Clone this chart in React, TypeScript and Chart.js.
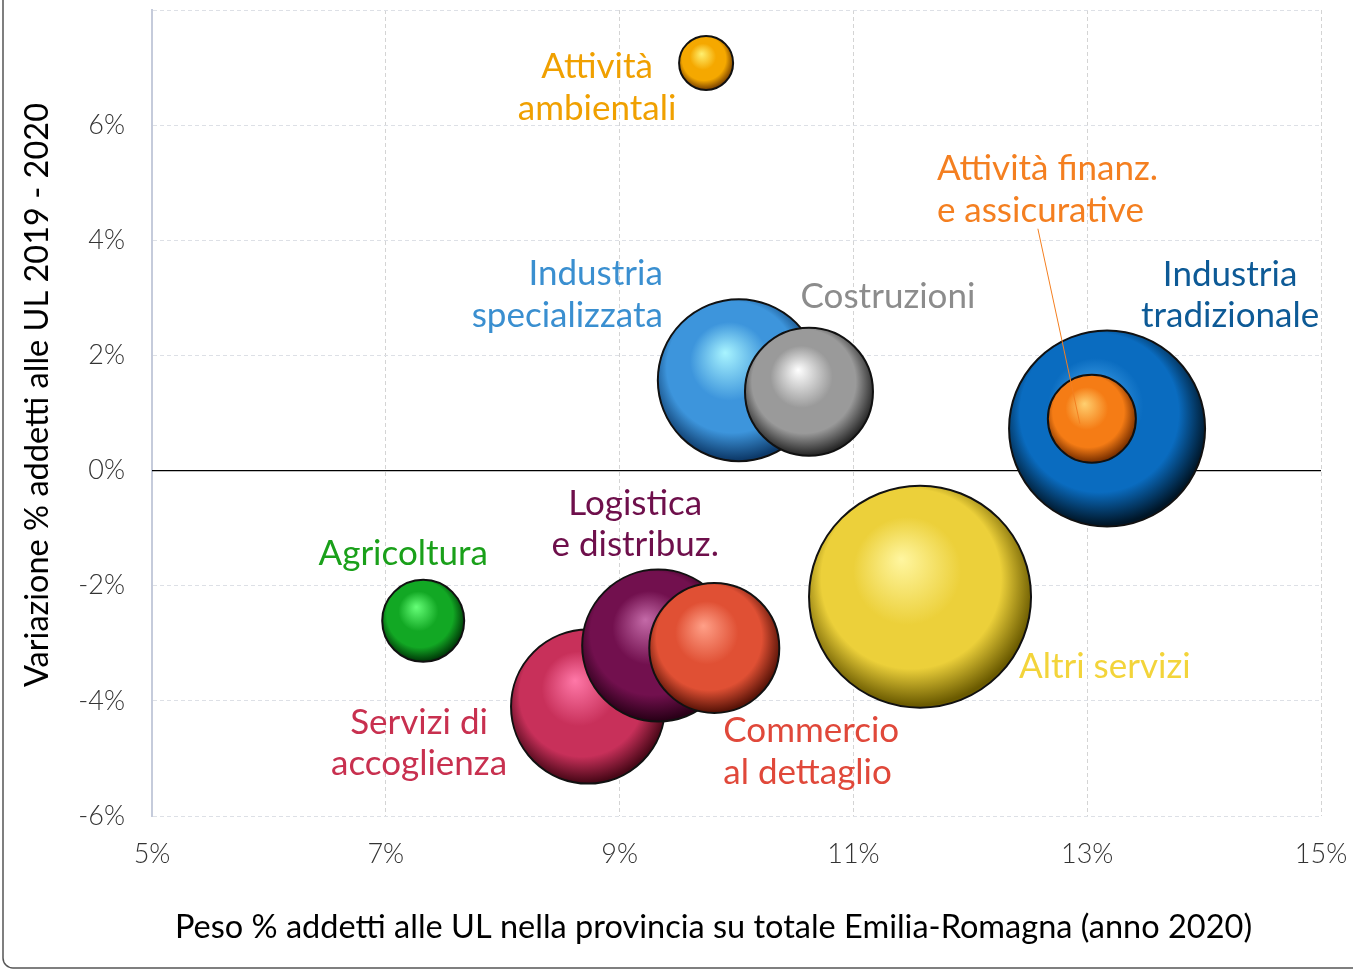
import React, { useEffect, useRef } from 'react';
import { Chart, registerables } from 'chart.js';

Chart.register(...registerables);

// ---------- DATA ----------
const categories = [
  'Attività ambientali',
  'Industria specializzata',
  'Costruzioni',
  'Industria tradizionale',
  'Attività finanz. e assicurative',
  'Altri servizi',
  'Agricoltura',
  'Servizi di accoglienza',
  'Logistica e distribuz.',
  'Commercio al dettaglio',
];
const labelLines = [
  ['Attività', 'ambientali'],
  ['Industria', 'specializzata'],
  ['Costruzioni'],
  ['Industria', 'tradizionale'],
  ['Attività finanz.', 'e assicurative'],
  ['Altri servizi'],
  ['Agricoltura'],
  ['Servizi di', 'accoglienza'],
  ['Logistica', 'e distribuz.'],
  ['Commercio', 'al dettaglio'],
];
// Peso % addetti (x)
const pesoAddetti = [9.74, 10.02, 10.62, 13.17, 13.04, 11.57, 7.32, 8.73, 9.33, 9.81];
// Variazione % addetti 2019-2020 (y)
const variazione = [7.08, 1.57, 1.37, 0.73, 0.9, -2.19, -2.61, -4.1, -3.04, -3.08];
// Bubble size
const bubbleSize = [27, 81, 64, 98, 44, 111, 41, 77, 76, 65];

const xTickValues = [5, 7, 9, 11, 13, 15];
const yTickValues = [-6, -4, -2, 0, 2, 4, 6];

const xTitle = 'Peso % addetti alle UL nella provincia su totale Emilia-Romagna (anno 2020)';
const yTitle = 'Variazione % addetti alle UL 2019 - 2020';

// ---------- STYLES ----------
const hiColors = ['#fff070', '#a8f4ff', '#ffffff', '#4aaaf0', '#ffd070', '#fff6a0', '#66ff78', '#ff78a8', '#c46aa8', '#ffa088'];
const baseColors = ['#f5a800', '#3d95dc', '#9a9a9a', '#0a6cc0', '#f57c15', '#ecd03a', '#12a824', '#c8305a', '#72104e', '#e05034'];
const darkColors = ['#7a4200', '#0d3a6a', '#2a2a2a', '#001628', '#7a3000', '#6a5a00', '#003a08', '#4a0818', '#2a0018', '#5a1408'];
const labelColors = ['#f0a000', '#3a8fd0', '#8c8c8c', '#0d5a96', '#f47f20', '#f3d43a', '#1aa01a', '#c8304f', '#6e0f4b', '#e0483a'];
// label offsets (px) relative to bubble centre
const labelLayout = [
  { dx: -109, dy: 4, align: 'center' },
  { dx: -76, dy: -106, align: 'right' },
  { dx: 79, dy: -95, align: 'center' },
  { dx: 123, dy: -154, align: 'center' },
  { dx: -155, dy: -250, align: 'left' },
  { dx: 99, dy: 70, align: 'left' },
  { dx: -20, dy: -67, align: 'center' },
  { dx: -169, dy: 16, align: 'center' },
  { dx: -23, dy: -142, align: 'center' },
  { dx: 9, dy: 83, align: 'left' },
];
const calloutIndex = 4;
const callout = { fromDx: -54, fromDy: -190, toDx: -12, toDy: 5 };

const FONT = 'Lato, "Noto Sans", sans-serif';

function bubbleFill(ctx: any) {
  const i = ctx.dataIndex ?? 0;
  const chart = ctx.chart;
  if (!chart.chartArea || !chart.scales.x || !chart.scales.y) return baseColors[i];
  const cx = chart.scales.x.getPixelForValue(pesoAddetti[i]);
  const cy = chart.scales.y.getPixelForValue(variazione[i]);
  const r = bubbleSize[i];
  const g = chart.ctx.createRadialGradient(cx - 0.17 * r, cy - 0.34 * r, 0, cx - 0.05 * r, cy - 0.1 * r, r * 1.08);
  g.addColorStop(0, hiColors[i]);
  g.addColorStop(0.45, baseColors[i]);
  g.addColorStop(0.75, baseColors[i]);
  g.addColorStop(1, darkColors[i]);
  return g;
}

const decorPlugin = {
  id: 'decor',
  beforeDatasetsDraw(chart: any) {
    const { ctx, chartArea, scales } = chart;
    const y0 = scales.y.getPixelForValue(0);
    ctx.save();
    ctx.strokeStyle = '#000';
    ctx.lineWidth = 1.2;
    ctx.beginPath();
    ctx.moveTo(chartArea.left, y0);
    ctx.lineTo(chartArea.right, y0);
    ctx.stroke();
    ctx.restore();
  },
  afterDatasetsDraw(chart: any) {
    const { ctx, scales } = chart;
    ctx.save();
    // callout line
    {
      const cx = scales.x.getPixelForValue(pesoAddetti[calloutIndex]);
      const cy = scales.y.getPixelForValue(variazione[calloutIndex]);
      ctx.strokeStyle = labelColors[calloutIndex];
      ctx.lineWidth = 1;
      ctx.beginPath();
      ctx.moveTo(cx + callout.fromDx, cy + callout.fromDy);
      ctx.lineTo(cx + callout.toDx, cy + callout.toDy);
      ctx.stroke();
    }
    ctx.font = `35px ${FONT}`;
    ctx.textBaseline = 'middle';
    labelLines.forEach((lines, i) => {
      const cx = scales.x.getPixelForValue(pesoAddetti[i]);
      const cy = scales.y.getPixelForValue(variazione[i]);
      const L = labelLayout[i];
      ctx.fillStyle = labelColors[i];
      ctx.textAlign = L.align;
      lines.forEach((t, k) => {
        ctx.fillText(t, cx + L.dx, cy + L.dy + k * 41.5);
      });
    });
    ctx.restore();
  },
  afterDraw(chart: any) {
    const { ctx, chartArea } = chart;
    ctx.save();
    // axis titles
    ctx.fillStyle = '#000';
    ctx.font = `32.5px ${FONT}`;
    ctx.textAlign = 'center';
    ctx.textBaseline = 'middle';
    ctx.fillText(xTitle, chartArea.left + (chartArea.right - chartArea.left) / 2 - 23, 928);
    ctx.translate(38, chartArea.top + (chartArea.bottom - chartArea.top) / 2 - 18);
    ctx.rotate(-Math.PI / 2);
    ctx.fillText(yTitle, 0, 0);
    ctx.restore();
    // frame
    ctx.save();
    ctx.strokeStyle = '#555';
    ctx.lineWidth = 1.5;
    ctx.beginPath();
    ctx.moveTo(3, -5);
    ctx.lineTo(3, 958);
    ctx.arcTo(3, 968, 13, 968, 10);
    ctx.lineTo(1400, 968);
    ctx.stroke();
    ctx.restore();
  },
};

export default function App() {
  const ref = useRef<HTMLCanvasElement | null>(null);
  useEffect(() => {
    if (!ref.current) return;
    const chart = new Chart(ref.current, {
      type: 'bubble',
      data: {
        datasets: [
          {
            label: 'Settori',
            data: categories.map((c, i) => ({ x: pesoAddetti[i], y: variazione[i], r: bubbleSize[i] })),
            backgroundColor: bubbleFill as any,
            borderColor: '#111',
            borderWidth: 2,
            hoverRadius: 0,
          },
        ],
      },
      options: {
        responsive: false,
        animation: false,
        events: [],
        layout: { autoPadding: false, padding: { top: 10, right: 32, left: 0, bottom: 0 } },
        plugins: { legend: { display: false }, tooltip: { enabled: false } },
        scales: {
          x: {
            type: 'linear',
            min: 5,
            max: 15,
            afterBuildTicks: (s: any) => { s.ticks = xTickValues.map((v) => ({ value: v })); },
            afterFit: (s: any) => {
              s.height = 155;
              s.paddingLeft = 0; s.paddingRight = 0; s.paddingTop = 0; s.paddingBottom = 0;
            },
            ticks: {
              padding: 22,
              color: '#333',
              font: { family: FONT, size: 27, weight: '300' as any },
              callback: (v: any) => `${v}%`,
              maxRotation: 0,
            },
            grid: {
              drawTicks: false,
              color: (c: any) => (c.tick && c.tick.value === 5 ? 'rgba(0,0,0,0)' : '#d4d4d4'),
              lineWidth: 1,
            },
            border: { display: false, dash: [4, 3] },
          },
          y: {
            type: 'linear',
            min: -6,
            max: 8,
            afterBuildTicks: (s: any) => { s.ticks = [...yTickValues, 8].map((v) => ({ value: v })); },
            afterFit: (s: any) => {
              s.width = 152;
              s.paddingLeft = 0; s.paddingRight = 0; s.paddingTop = 0; s.paddingBottom = 0;
            },
            ticks: {
              padding: 27,
              color: '#333',
              font: { family: FONT, size: 27, weight: '300' as any },
              callback: (v: any) => (v === 8 ? '' : `${v}%`),
            },
            grid: {
              drawTicks: false,
              color: (c: any) => (c.tick && c.tick.value === 0 ? 'rgba(0,0,0,0)' : '#dde0e6'),
              lineWidth: 1,
            },
            border: { display: true, color: '#c5cbdb', width: 2, dash: [4, 3] },
          },
        },
      },
      plugins: [decorPlugin],
    });
    return () => chart.destroy();
  }, []);
  return (
    <div style={{ position: 'fixed', left: 0, top: 0, width: 1353, height: 971, background: '#fff' }}>
      <canvas ref={ref} width={1353} height={971} style={{ display: 'block', width: 1353, height: 971 }} />
    </div>
  );
}
